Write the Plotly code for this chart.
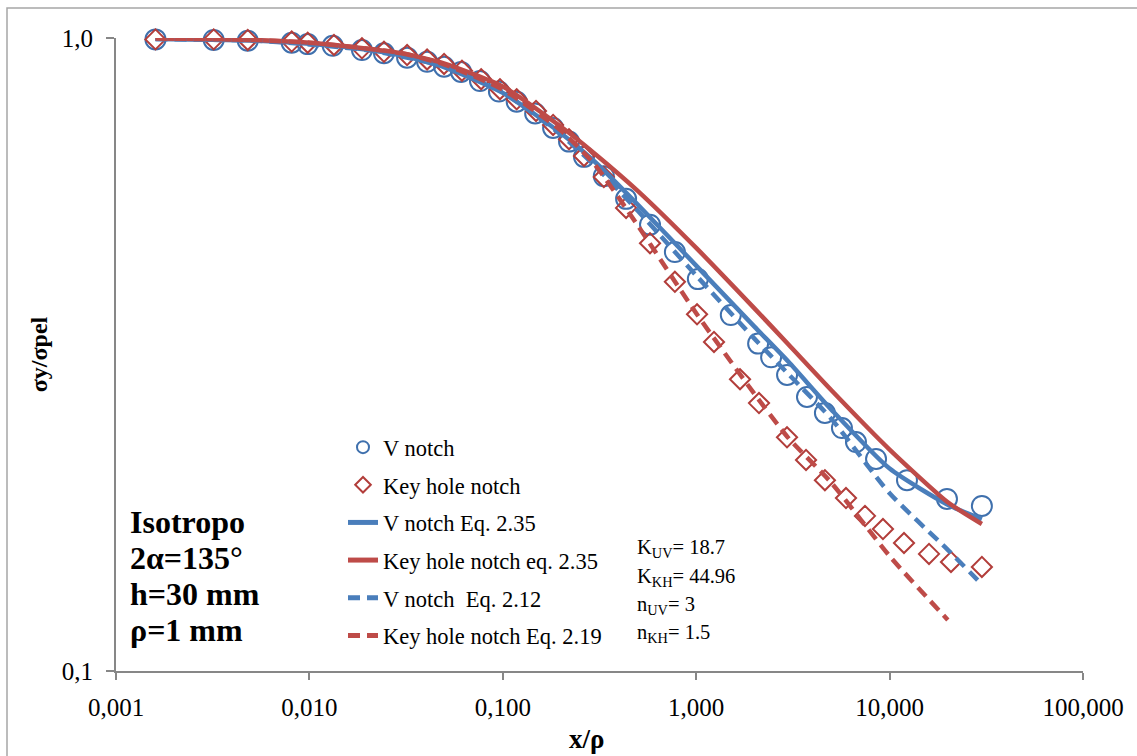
import plotly.graph_objects as go

# ---------------- data ----------------
x_v_notch = [0.0016, 0.0032, 0.0048, 0.0081, 0.0098, 0.0132, 0.0187, 0.0243, 0.032, 0.0406,
             0.0497, 0.0608, 0.0762, 0.0955, 0.118, 0.147, 0.182, 0.22, 0.263, 0.333,
             0.434, 0.577, 0.776, 1.02, 1.51, 2.09, 2.44, 2.95, 3.74, 4.63,
             5.67, 6.70, 8.51, 12.3, 19.8, 30.0]
y_v_notch = [0.995, 0.993, 0.990, 0.983, 0.978, 0.972, 0.957, 0.946, 0.931, 0.917,
             0.901, 0.884, 0.855, 0.823, 0.793, 0.760, 0.721, 0.686, 0.649, 0.605,
             0.557, 0.507, 0.459, 0.416, 0.365, 0.329, 0.313, 0.2935, 0.271, 0.2556,
             0.242, 0.230, 0.2163, 0.2002, 0.187, 0.1823]

x_key_hole = [0.0016, 0.0032, 0.0048, 0.0081, 0.0098, 0.0134, 0.0187, 0.0243, 0.032, 0.0406,
              0.0497, 0.0615, 0.0773, 0.0967, 0.118, 0.1485, 0.182, 0.22, 0.263, 0.333,
              0.434, 0.577, 0.776, 1.01, 1.236, 1.685, 2.112, 2.948, 3.697, 4.63,
              5.95, 7.46, 9.24, 11.87, 15.99, 20.77, 30.0]
y_key_hole = [0.995, 0.995, 0.993, 0.987, 0.983, 0.975, 0.963, 0.951, 0.940, 0.925,
              0.910, 0.888, 0.861, 0.830, 0.800, 0.767, 0.729, 0.692, 0.651, 0.603,
              0.539, 0.474, 0.412, 0.366, 0.331, 0.289, 0.265, 0.234, 0.2155, 0.2002,
              0.1876, 0.1758, 0.1676, 0.1593, 0.1531, 0.1487, 0.1460]

x_eq = [0.0016, 0.003, 0.005, 0.01, 0.02, 0.03, 0.05, 0.1, 0.2, 0.3,
        0.5, 1, 2, 3, 5, 10, 20, 30]
y_v_eq235 = [0.996, 0.994, 0.991, 0.979, 0.958, 0.938, 0.899, 0.819, 0.707, 0.637,
             0.545, 0.437, 0.350, 0.308, 0.2588, 0.2088, 0.1831, 0.1738]
y_kh_eq235 = [0.998, 0.996, 0.993, 0.983, 0.962, 0.946, 0.911, 0.838, 0.724, 0.656,
              0.573, 0.466, 0.374, 0.328, 0.2777, 0.2238, 0.1847, 0.1707]
y_v_eq212 = [0.996, 0.994, 0.991, 0.977, 0.957, 0.935, 0.901, 0.821, 0.703, 0.628,
             0.533, 0.4215, 0.335, 0.2944, 0.2502, 0.1909, 0.1554, 0.137]
x_kh_eq219 = [0.0016, 0.003, 0.005, 0.01, 0.02, 0.03, 0.05, 0.1, 0.2, 0.3,
              0.5, 1, 2, 3, 5, 10, 20]
y_kh_eq219 = [0.998, 0.996, 0.993, 0.983, 0.962, 0.946, 0.908, 0.829, 0.714, 0.630,
              0.505, 0.3674, 0.274, 0.2333, 0.1983, 0.1519, 0.1204]

x_tickvals = [0.001, 0.01, 0.1, 1, 10, 100]
x_ticktext = ["0,001", "0,010", "0,100", "1,000", "10,000", "100,000"]
y_tickvals = [0.1, 1]
y_ticktext = ["0,1", "1,0"]

names = ["V notch", "Key hole notch", "V notch Eq. 2.35", "Key hole notch eq. 2.35",
         "V notch  Eq. 2.12", "Key hole notch Eq. 2.19"]
x_title = "x/ρ"
y_title = "σy/σpel"
info_lines = ["Isotropo", "2α=135°", "h=30 mm", "ρ=1 mm"]
param_lines = ["K<sub>UV</sub>= 18.7", "K<sub>KH</sub>= 44.96",
               "n<sub>UV</sub>= 3", "n<sub>KH</sub>= 1.5"]

# ---------------- style ----------------
BLUE = "#4A7EBB"
RED = "#BE4B48"
BLUE_M = "#3F70AD"
RED_M = "#B23D3A"
GRID = "#878787"
FONT = "Liberation Serif"

W, H = 1137, 756
L, R, T, B = 116, 54, 38, 85


def px_x(p):
    return (p - L) / (W - L - R)


def px_y(p):
    return (H - B - p) / (H - T - B)


fig = go.Figure()
fig.add_trace(go.Scatter(x=x_v_notch, y=y_v_notch, mode="markers", name=names[0],
                         legendgroup="a",
                         marker=dict(symbol="circle-open", size=20, color=BLUE_M,
                                     line=dict(width=2, color=BLUE_M)),
                         cliponaxis=False))
fig.add_trace(go.Scatter(x=x_key_hole, y=y_key_hole, mode="markers", name=names[1],
                         legendgroup="b",
                         marker=dict(symbol="diamond-open", size=15.5, color=RED_M,
                                     line=dict(width=2, color=RED_M)),
                         cliponaxis=False))
fig.add_trace(go.Scatter(x=x_eq, y=y_v_eq235, mode="lines", name=names[2], legendgroup="c",
                         line=dict(color=BLUE, width=4.5, shape="spline", smoothing=0.6),
                         cliponaxis=False))
fig.add_trace(go.Scatter(x=x_eq, y=y_kh_eq235, mode="lines", name=names[3], legendgroup="d",
                         line=dict(color=RED, width=4.5, shape="spline", smoothing=0.6),
                         cliponaxis=False))
fig.add_trace(go.Scatter(x=x_eq, y=y_v_eq212, mode="lines", name=names[4], legendgroup="e",
                         line=dict(color=BLUE, width=4.5, dash="12px,7px", shape="spline",
                                   smoothing=0.6),
                         cliponaxis=False))
fig.add_trace(go.Scatter(x=x_kh_eq219, y=y_kh_eq219, mode="lines", name=names[5],
                         legendgroup="f",
                         line=dict(color=RED, width=4.5, dash="12px,7px", shape="spline",
                                   smoothing=0.6),
                         cliponaxis=False))

annotations = []
for txt, yc in zip(info_lines, [522, 558, 594, 630]):
    annotations.append(dict(text=f"<b>{txt}</b>", x=px_x(128), y=px_y(yc), xref="paper",
                            yref="paper", xanchor="left", yanchor="middle", showarrow=False,
                            font=dict(family=FONT, size=32, color="black")))
for txt, yc in zip(param_lines, [548, 577, 605, 633]):
    annotations.append(dict(text=txt, x=px_x(635), y=px_y(yc), xref="paper",
                            yref="paper", xanchor="left", yanchor="middle", showarrow=False,
                            font=dict(family=FONT, size=20.5, color="black")))
# x-axis title
annotations.append(dict(text=f"<b>{x_title}</b>", x=px_x(586), y=px_y(739), xref="paper",
                        yref="paper", xanchor="center", yanchor="middle", showarrow=False,
                        font=dict(family=FONT, size=27, color="black")))

fig.update_layout(
    width=W, height=H,
    margin=dict(l=L, r=R, t=T, b=B),
    paper_bgcolor="white", plot_bgcolor="white",
    font=dict(family=FONT, color="black"),
    showlegend=True,
    legend=dict(x=px_x(343), y=px_y(426), xanchor="left", yanchor="top",
                bgcolor="rgba(0,0,0,0)", font=dict(family=FONT, size=22.5, color="black"),
                tracegroupgap=5.4, itemsizing="constant", traceorder="grouped"),
    xaxis=dict(type="log", range=[-3, 2], tickvals=x_tickvals, ticktext=x_ticktext,
               showgrid=False, zeroline=False, showline=True, linecolor=GRID, linewidth=2,
               ticks="outside", ticklen=7, tickwidth=2, tickcolor=GRID,
               tickfont=dict(family=FONT, size=25, color="black"), ticklabelstandoff=6),
    yaxis=dict(type="log", range=[-1, 0], tickvals=y_tickvals, ticktext=y_ticktext,
               showgrid=True, gridcolor=GRID, gridwidth=2, zeroline=False, showline=True,
               linecolor=GRID, linewidth=2, ticks="outside", ticklen=8, tickwidth=2,
               tickcolor=GRID, tickfont=dict(family=FONT, size=25, color="black"),
               ticklabelstandoff=8,
               title=dict(text=f"<b>{y_title}</b>",
                          font=dict(family=FONT, size=24, color="black"), standoff=7)),
    annotations=annotations,
    shapes=[dict(type="rect", xref="paper", yref="paper", x0=px_x(7), x1=px_x(1150),
                 y0=px_y(8), y1=px_y(780), line=dict(color="#A6A6A6", width=1.5),
                 fillcolor="rgba(0,0,0,0)", layer="below")],
)

fig.write_html("out.html")
